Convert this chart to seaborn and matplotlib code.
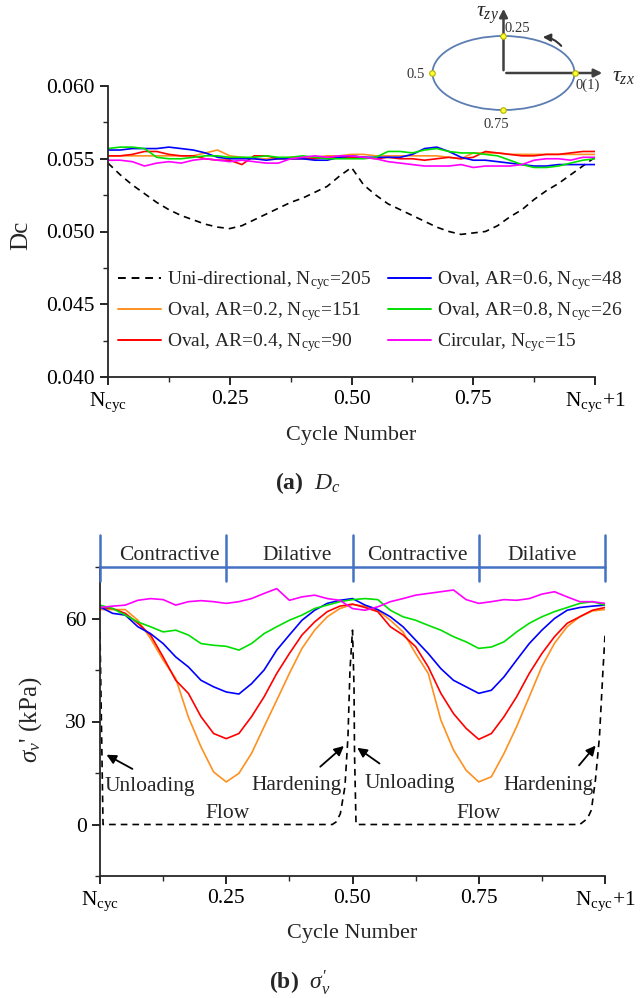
import numpy as np
import pandas as pd
import matplotlib
matplotlib.use("Agg")
import matplotlib.pyplot as plt
from matplotlib.patches import Ellipse
from matplotlib.ticker import MultipleLocator
import seaborn as sns

# ---------------- data ----------------
cycle = [i * 0.025 for i in range(41)]

dc_uni = [0.0547, 0.0539, 0.0532, 0.0526, 0.0520, 0.0515, 0.0511, 0.0508, 0.0505, 0.0503,
          0.0502, 0.0504, 0.0508, 0.0512, 0.0516, 0.0520, 0.0523, 0.0527, 0.0531, 0.0538,
          0.0544, 0.0532, 0.0525, 0.0519, 0.0515, 0.0511, 0.0507, 0.0503, 0.0500, 0.0498,
          0.0499, 0.0500, 0.0504, 0.0510, 0.0515, 0.0522, 0.0528, 0.0533, 0.0539, 0.0545, 0.0551]
dc_ar02 = [0.0552, 0.0552, 0.0552, 0.0552, 0.0552, 0.0552, 0.0552, 0.0552, 0.0554, 0.0556,
           0.0552, 0.0551, 0.0550, 0.0550, 0.0550, 0.0551, 0.0551, 0.0551, 0.0552, 0.0552,
           0.0553, 0.0553, 0.0552, 0.0552, 0.0552, 0.0552, 0.0552, 0.0552, 0.0551, 0.0550,
           0.0554, 0.0554, 0.0554, 0.0553, 0.0553, 0.0553, 0.0553, 0.0553, 0.0553, 0.0553, 0.0553]
dc_ar04 = [0.0552, 0.0552, 0.0553, 0.0555, 0.0555, 0.0553, 0.0552, 0.0552, 0.0550, 0.0549,
           0.0549, 0.0546, 0.0552, 0.0552, 0.0550, 0.0550, 0.0550, 0.0550, 0.0551, 0.0551,
           0.0551, 0.0551, 0.0550, 0.0551, 0.0550, 0.0550, 0.0549, 0.0550, 0.0551, 0.0550,
           0.0551, 0.0555, 0.0554, 0.0553, 0.0552, 0.0552, 0.0553, 0.0553, 0.0554, 0.0555, 0.0555]
dc_ar06 = [0.0556, 0.0556, 0.0557, 0.0557, 0.0557, 0.0558, 0.0557, 0.0556, 0.0554, 0.0551,
           0.0550, 0.0550, 0.0550, 0.0549, 0.0550, 0.0550, 0.0550, 0.0549, 0.0549, 0.0551,
           0.0552, 0.0551, 0.0551, 0.0551, 0.0551, 0.0553, 0.0557, 0.0558, 0.0555, 0.0551,
           0.0549, 0.0549, 0.0548, 0.0547, 0.0546, 0.0545, 0.0545, 0.0546, 0.0546, 0.0546, 0.0546]
dc_ar08 = [0.0557, 0.0558, 0.0558, 0.0557, 0.0551, 0.0550, 0.0550, 0.0551, 0.0552, 0.0552,
           0.0551, 0.0551, 0.0551, 0.0552, 0.0551, 0.0551, 0.0552, 0.0551, 0.0550, 0.0550,
           0.0550, 0.0550, 0.0551, 0.0555, 0.0555, 0.0554, 0.0556, 0.0557, 0.0555, 0.0554,
           0.0554, 0.0553, 0.0552, 0.0549, 0.0546, 0.0544, 0.0544, 0.0545, 0.0547, 0.0549, 0.0550]
dc_circ = [0.0549, 0.0549, 0.0548, 0.0545, 0.0547, 0.0548, 0.0547, 0.0549, 0.0550, 0.0549,
           0.0548, 0.0549, 0.0548, 0.0547, 0.0547, 0.0550, 0.0551, 0.0552, 0.0551, 0.0552,
           0.0552, 0.0551, 0.0550, 0.0548, 0.0547, 0.0546, 0.0545, 0.0545, 0.0545, 0.0546,
           0.0544, 0.0545, 0.0545, 0.0545, 0.0546, 0.0549, 0.0550, 0.0550, 0.0549, 0.0551, 0.0551]

sv_uni_x = [0.0, 0.006, 0.46, 0.468, 0.476, 0.485, 0.491, 0.495, 0.5, 0.503, 0.504, 0.507,
            0.95, 0.965, 0.973, 0.981, 0.989, 0.996, 1.0]
sv_uni = [56.0, 0.0, 0.0, 0.8, 3.2, 11.0, 25.5, 45.0, 56.6, 40.0, 20.7, 0.0,
          0.0, 1.7, 4.2, 12.9, 25.5, 45.0, 55.0]
sv_ar02 = [62.6, 62.6, 62.6, 59.5, 54.2, 47.9, 42.5, 31.3, 22.6, 15.3,
           12.4, 14.9, 20.7, 28.5, 36.2, 44.0, 51.3, 56.6, 60.5, 62.9,
           64.1, 63.6, 62.4, 59.5, 56.1, 49.8, 44.0, 30.4, 21.7, 15.8,
           12.4, 13.9, 20.7, 28.5, 37.2, 46.0, 52.8, 57.6, 60.5, 62.2, 62.6]
sv_ar04 = [63.2, 62.9, 61.5, 58.6, 55.2, 48.8, 42.0, 38.2, 31.4, 26.5,
           25.0, 26.5, 31.4, 37.2, 44.0, 49.8, 55.2, 59.0, 62.0, 63.6,
           64.2, 63.2, 62.0, 57.6, 55.2, 51.8, 45.9, 38.2, 32.3, 28.0,
           24.8, 26.5, 31.4, 37.2, 44.0, 49.8, 54.7, 58.6, 60.5, 62.4, 63.2]
sv_ar06 = [63.4, 61.5, 61.0, 57.6, 55.6, 52.7, 48.8, 45.9, 42.0, 40.1,
           38.6, 38.0, 41.0, 45.0, 50.8, 55.2, 59.5, 62.4, 64.4, 65.3,
           65.8, 63.9, 62.6, 60.5, 57.6, 53.7, 49.8, 45.4, 42.0, 40.1,
           38.2, 39.1, 43.0, 47.9, 52.7, 56.6, 60.0, 62.4, 63.2, 63.6, 63.9]
sv_ar08 = [63.9, 62.9, 61.0, 59.0, 57.6, 56.1, 56.6, 55.2, 52.7, 52.2,
           51.9, 50.8, 52.7, 55.6, 57.6, 59.5, 61.0, 62.9, 63.9, 64.9,
           65.5, 65.8, 65.5, 62.4, 60.5, 59.5, 58.0, 56.6, 54.7, 53.2,
           51.3, 51.7, 53.2, 56.1, 58.6, 60.5, 62.0, 63.2, 64.4, 64.9, 63.9]
sv_circ = [63.2, 63.6, 63.9, 65.3, 65.8, 65.5, 63.9, 64.9, 65.2, 64.9,
           64.4, 64.9, 65.8, 67.3, 68.7, 65.3, 66.3, 66.8, 65.8, 65.3,
           62.9, 62.4, 63.4, 64.9, 65.8, 66.8, 67.3, 67.8, 68.3, 65.5,
           64.4, 64.9, 65.5, 65.3, 65.8, 67.1, 67.8, 66.3, 64.9, 64.9, 64.4]

labels = [r'Uni-directional, N$_{\rm cyc}$=205',
          r'Oval, AR=0.2, N$_{\rm cyc}$=151',
          r'Oval, AR=0.4, N$_{\rm cyc}$=90',
          r'Oval, AR=0.6, N$_{\rm cyc}$=48',
          r'Oval, AR=0.8, N$_{\rm cyc}$=26',
          r'Circular, N$_{\rm cyc}$=15']
colors = ['black', '#FF9020', '#FF0000', '#0000FF', '#00E000', '#FF00FF']
xtick_vals = [0, 0.25, 0.5, 0.75, 1.0]
xtick_labels = [r'N$_{\rm cyc}$', '0.25', '0.50', '0.75', r'N$_{\rm cyc}$+1']
phase_labels = ['Contractive', 'Dilative', 'Contractive', 'Dilative']
phase_centers = [0.138, 0.39, 0.628, 0.875]

# ---------------- style ----------------
sns.set_style('ticks')
plt.rcParams['font.family'] = ['Liberation Serif', 'DejaVu Serif']
plt.rcParams['mathtext.fontset'] = 'custom'
plt.rcParams['mathtext.rm'] = 'Liberation Serif'
plt.rcParams['mathtext.it'] = 'Liberation Serif:italic'
plt.rcParams['mathtext.bf'] = 'Liberation Serif:bold'
plt.rcParams['axes.linewidth'] = 1.3

FS = 15.5
fig = plt.figure(figsize=(6.44, 9.98), dpi=100)
W, H = 644, 998


def px_axes(x0, x1, ytop, ybot):
    return fig.add_axes([x0 / W, 1 - ybot / H, (x1 - x0) / W, (ybot - ytop) / H])


def style_axes(ax):
    sns.despine(ax=ax)
    ax.tick_params(which='major', direction='out', length=6, width=1.2, labelsize=FS,
                   colors='black')
    ax.tick_params(which='minor', direction='out', length=3.5, width=1.0)
    ax.set_xlim(0, 1)
    ax.set_xticks(xtick_vals)
    ax.set_xticklabels(xtick_labels)
    ax.xaxis.set_minor_locator(MultipleLocator(0.125))
    ax.set_xlabel('Cycle Number', fontsize=FS + 0.5)


# ---------------- top panel ----------------
ax1 = px_axes(108, 595, 86, 377)
series_top = [dc_uni, dc_ar02, dc_ar04, dc_ar06, dc_ar08, dc_circ]
for i, (vals, c, lab) in enumerate(zip(series_top, colors, labels)):
    df = pd.DataFrame({'x': cycle, 'y': vals})
    sns.lineplot(data=df, x='x', y='y', ax=ax1, color=c, lw=1.2, label=lab,
                 linestyle='--' if i == 0 else '-')
ax1.lines[0].set_dashes((4, 3))
style_axes(ax1)
ax1.set_ylim(0.040, 0.060)
ax1.set_yticks([0.040, 0.045, 0.050, 0.055, 0.060])
ax1.set_yticklabels(['0.040', '0.045', '0.050', '0.055', '0.060'])
ax1.yaxis.set_minor_locator(MultipleLocator(0.0025))
ax1.set_ylabel('Dc', fontsize=18)
ax1.yaxis.set_label_coords(-0.155, 0.485)
ax1.xaxis.set_label_coords(0.5, -0.17)
leg = ax1.legend(loc='upper left', bbox_to_anchor=(0.02, 0.37), ncol=2, frameon=False,
                 fontsize=14, handlelength=2.25, handletextpad=0.3, columnspacing=0.85,
                 labelspacing=0.42, borderaxespad=0, borderpad=0)
for lh in leg.get_lines():
    lh.set_linewidth(1.4)
leg.get_lines()[0].set_dashes((4, 3))

fig.text(308 / W, 1 - 483 / H, r'$\mathbf{(a)}$  $D_c$', fontsize=17, ha='center', va='center')

# ---------------- bottom panel ----------------
ax2 = px_axes(100, 605, 567, 876)
df = pd.DataFrame({'x': sv_uni_x, 'y': sv_uni})
sns.lineplot(data=df, x='x', y='y', ax=ax2, color='black', lw=1.2, linestyle='--',
             sort=False, estimator=None)
ax2.lines[0].set_dashes((4, 3))
for vals, c in zip([sv_ar02, sv_ar04, sv_ar06, sv_ar08, sv_circ], colors[1:]):
    df = pd.DataFrame({'x': cycle, 'y': vals})
    sns.lineplot(data=df, x='x', y='y', ax=ax2, color=c, lw=1.2)
style_axes(ax2)
ax2.set_ylim(-15, 75)
ax2.set_yticks([0, 30, 60])
ax2.yaxis.set_minor_locator(MultipleLocator(15))
ax2.set_ylabel(r"$\sigma_v$' (kPa)", fontsize=18)
ax2.yaxis.set_label_coords(-0.11, 0.505)
ax2.xaxis.set_label_coords(0.5, -0.155)
if ax2.get_legend():
    ax2.get_legend().remove()

band = '#4472C4'
ax2.plot([0, 1], [75, 75], color=band, lw=1.8, clip_on=False, zorder=5)
for xv in xtick_vals:
    ax2.plot([xv, xv], [71, 84.2], color=band, lw=1.8, clip_on=False, zorder=5)
for xc, t in zip(phase_centers, phase_labels):
    ax2.text(xc, 78.3, t, ha='center', va='center', fontsize=FS, clip_on=False)

arrow_kw = dict(arrowstyle='-|>', color='black', lw=1.3, mutation_scale=14)
ax2.annotate('', xy=(0.008, 20.7), xytext=(0.069, 15.8), arrowprops=arrow_kw)
ax2.annotate('', xy=(0.487, 23.4), xytext=(0.432, 16.3), arrowprops=arrow_kw)
ax2.annotate('', xy=(0.505, 22.8), xytext=(0.558, 17.3), arrowprops=arrow_kw)
ax2.annotate('', xy=(0.985, 23.6), xytext=(0.945, 16.6), arrowprops=arrow_kw)
ax2.text(0.098, 11.0, 'Unloading', ha='center', va='center', fontsize=FS)
ax2.text(0.39, 11.5, 'Hardening', ha='center', va='center', fontsize=FS)
ax2.text(0.614, 11.9, 'Unloading', ha='center', va='center', fontsize=FS)
ax2.text(0.888, 11.5, 'Hardening', ha='center', va='center', fontsize=FS)
ax2.text(0.252, 3.2, 'Flow', ha='center', va='center', fontsize=FS)
ax2.text(0.749, 3.2, 'Flow', ha='center', va='center', fontsize=FS)

fig.text(300 / W, 1 - 983 / H, r"$\mathbf{(b)}$  $\sigma_v'$", fontsize=17,
         ha='center', va='center')

# ---------------- inset (loading path sketch) ----------------
axi = fig.add_axes([400 / W, 1 - 140 / H, 244 / W, 140 / H])
axi.set_xlim(400, 644)
axi.set_ylim(140, 0)
axi.axis('off')
cx, cy = 503.5, 73
axi.add_patch(Ellipse((cx, cy), 142, 74, fill=False, edgecolor='#5B7DB1', lw=1.3))
ak = dict(arrowstyle='-|>', color='#404040', lw=1.8, mutation_scale=12)
axi.annotate('', xy=(cx, 6), xytext=(cx, cy), arrowprops=ak)
axi.annotate('', xy=(605, cy), xytext=(cx, cy), arrowprops=ak)
axi.annotate('', xy=(540, 37), xytext=(563, 48),
             arrowprops=dict(arrowstyle='-|>', color='#333333', lw=1.5, mutation_scale=11,
                             connectionstyle='arc3,rad=0.25'))
axi.scatter([cx, 432.5, 574.5, cx], [36, cy, cy, 110], s=16, color='#FFFF33',
            edgecolor='#B0B000', linewidth=0.8, zorder=5)
axi.text(517, 29, '0.25', fontsize=10.5, ha='center', va='center', color='#333333')
axi.text(416, 75, '0.5', fontsize=10.5, ha='center', va='center', color='#333333')
axi.text(588, 85, '0(1)', fontsize=10.5, ha='center', va='center', color='#333333')
axi.text(496, 124, '0.75', fontsize=10.5, ha='center', va='center', color='#333333')
axi.text(499, 15, r'$\tau_{zy}$', fontsize=16, ha='right', va='center')
axi.text(623, 77, r'$\tau_{zx}$', fontsize=16, ha='center', va='center')

fig.savefig('out.png', dpi=100)
